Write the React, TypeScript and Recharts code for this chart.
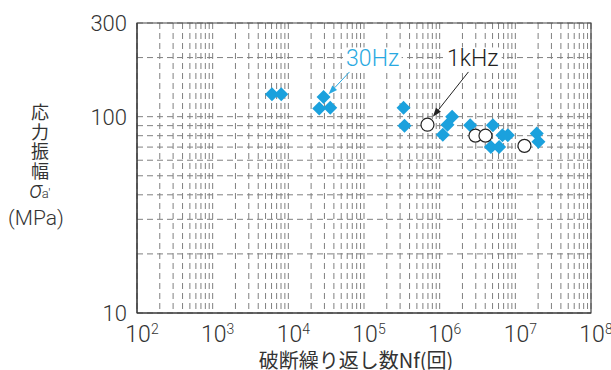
import React from "react";
import {
  ScatterChart,
  Scatter,
  XAxis,
  YAxis,
  CartesianGrid,
  ReferenceLine,
  ReferenceDot,
  ReferenceArea,
} from "recharts";

// decade labels on the x axis, minor grid at 2..9 x 10^n
const xDecades = [1e2, 1e3, 1e4, 1e5, 1e6, 1e7, 1e8];
const xGridTicks = xDecades
  .flatMap((d) => [1, 2, 3, 4, 5, 6, 7, 8, 9].map((m) => m * d))
  .filter((v) => v <= 1e8);

const yLabelTicks = [10, 100, 300];
const yGridTicks = [10, 20, 30, 40, 50, 60, 70, 80, 90, 100, 200, 300];

// 30Hz tests (blue diamonds)
const hz30Cycles = [
  6070, 8060, 29200, 25600, 35800, 333000, 343000, 1.46e6, 1.27e6, 1.1e6,
  2.53e6, 5.05e6, 4.75e6, 6.11e6, 6.76e6, 7.96e6, 1.92e7, 2.02e7,
];
const hz30Stress = [
  130, 130, 126, 110, 111, 111, 90, 100, 91, 81, 90.5, 90.5, 70, 70, 80.5,
  80.5, 82, 74.5,
];

// 1kHz tests (open circles)
const khz1Cycles = [6.9e5, 2.97e6, 4.03e6, 1.32e7];
const khz1Stress = [91, 80, 80, 71];

const BLUE = "#1ba1dd";
const NUM_FONT = "Roboto, 'Liberation Sans', sans-serif";
const JP_FONT = "'Noto Sans CJK JP', 'Noto Sans', sans-serif";

const hz30Data = hz30Cycles.map((n, i) => ({ n, s: hz30Stress[i] }));
const khz1Data = khz1Cycles.map((n, i) => ({ n, s: khz1Stress[i] }));

// annotation arrows (data coordinates)
const annotations = [
  { text: "30Hz", color: "#29a9e1", from: { n: 64300, s: 169 }, to: { n: 34000, s: 130 }, at: { n: 1.3e5, s: 198 } },
  { text: "1kHz", color: "#222", from: { n: 2.4e6, s: 169 }, to: { n: 8.13e5, s: 99.8 }, at: { n: 2.73e6, s: 198 } },
];

const isDecade = (v: number) => {
  const l = Math.log10(v);
  return Math.abs(l - Math.round(l)) < 1e-9;
};

const XTick = (props: any) => {
  const { x, y, payload } = props;
  const v = payload.value;
  if (!isDecade(v)) return <g />;
  const exp = Math.round(Math.log10(v));
  return (
    <text x={x + 5} y={y + 29} textAnchor="middle" fill="#333" fontFamily={NUM_FONT} fontWeight={300} fontSize={23}>
      10
      <tspan dy={-8} fontSize={14}>{exp}</tspan>
    </text>
  );
};

const YTick = (props: any) => {
  const { x, y, payload } = props;
  if (!yLabelTicks.includes(payload.value)) return <g />;
  return (
    <text x={x - 10} y={y + 8} textAnchor="end" fill="#333" fontFamily={NUM_FONT} fontWeight={300} fontSize={22}>
      {payload.value}
    </text>
  );
};

const Diamond = (props: any) => {
  const { cx, cy } = props;
  const r = 7;
  return (
    <polygon
      points={`${cx},${cy - r} ${cx + r},${cy} ${cx},${cy + r} ${cx - r},${cy}`}
      fill={BLUE}
    />
  );
};

const OpenCircle = (props: any) => {
  const { cx, cy } = props;
  return <circle cx={cx} cy={cy} r={6.5} fill="#fff" stroke="#222" strokeWidth={1.2} />;
};

const arrowShape = (color: string) => (props: any) => {
  const { x1, y1, x2, y2 } = props;
  const dx = x2 - x1;
  const dy = y2 - y1;
  const len = Math.sqrt(dx * dx + dy * dy) || 1;
  const ux = dx / len;
  const uy = dy / len;
  const hl = 9;
  const hw = 3.2;
  const bx = x2 - ux * hl;
  const by = y2 - uy * hl;
  return (
    <g>
      <line x1={x1} y1={y1} x2={bx} y2={by} stroke={color} strokeWidth={1} />
      <polygon
        points={`${x2},${y2} ${bx - uy * hw},${by + ux * hw} ${bx + uy * hw},${by - ux * hw}`}
        fill={color}
      />
    </g>
  );
};

const labelShape = (text: string, color: string) => (props: any) => {
  const { cx, cy } = props;
  const w = text.length * 13 + 6;
  return (
    <g>
      <rect x={cx - w / 2} y={cy - 11} width={w} height={22} fill="#fff" />
      <text x={cx} y={cy + 8} textAnchor="middle" fill={color} fontFamily={NUM_FONT} fontWeight={300} fontSize={23}>
        {text}
      </text>
    </g>
  );
};

export default function App() {
  return (
    <div style={{ position: "absolute", left: 0, top: 0, width: 611, height: 370, background: "#fff" }}>
      <ScatterChart width={611} height={370} margin={{ top: 23, right: 20, left: 0, bottom: 0 }}>
        <CartesianGrid stroke="#808080" strokeDasharray="6 4" />
        <XAxis
          type="number"
          dataKey="n"
          scale="log"
          domain={[100, 1e8]}
          ticks={xGridTicks}
          interval={0}
          allowDataOverflow
          tick={<XTick />}
          tickLine={false}
          tickSize={0}
          tickMargin={0}
          height={57}
          axisLine={{ stroke: "#333" }}
        />
        <YAxis
          type="number"
          dataKey="s"
          scale="log"
          domain={[10, 300]}
          ticks={yGridTicks}
          interval={0}
          allowDataOverflow
          tick={<YTick />}
          tickLine={false}
          tickSize={0}
          tickMargin={0}
          width={137}
          axisLine={{ stroke: "#333" }}
        />
        <ReferenceArea x1={100} x2={1e8} y1={10} y2={300} fill="none" stroke="#444" strokeWidth={1.2} />
        <Scatter data={hz30Data} shape={<Diamond />} isAnimationActive={false} />
        <Scatter data={khz1Data} shape={<OpenCircle />} isAnimationActive={false} />
        {annotations.map((a) => (
          <ReferenceLine
            key={a.text + "-arrow"}
            segment={[
              { x: a.from.n, y: a.from.s },
              { x: a.to.n, y: a.to.s },
            ]}
            shape={arrowShape(a.color)}
          />
        ))}
        {annotations.map((a) => (
          <ReferenceDot key={a.text + "-label"} x={a.at.n} y={a.at.s} r={0} shape={labelShape(a.text, a.color)} />
        ))}
      </ScatterChart>

      {/* y axis title, stacked vertically */}
      <div
        style={{
          position: "absolute",
          left: 0,
          top: 102,
          width: 80,
          color: "#333",
          textAlign: "center",
          fontSize: 18,
          lineHeight: "19.5px",
          fontFamily: JP_FONT,
        }}
      >
        応<br />力<br />振<br />幅
      </div>
      <div
        style={{
          position: "absolute",
          left: 0,
          top: 180,
          width: 80,
          color: "#333",
          textAlign: "center",
          lineHeight: "22px",
          fontFamily: NUM_FONT,
          fontWeight: 300,
        }}
      >
        <span style={{ fontStyle: "italic", fontSize: 23 }}>σ</span>
        <span style={{ fontSize: 13 }}>a′</span>
      </div>
      <div
        style={{
          position: "absolute",
          left: -4,
          top: 206,
          width: 80,
          color: "#333",
          textAlign: "center",
          lineHeight: "24px",
          fontSize: 21,
          fontFamily: NUM_FONT,
          fontWeight: 300,
        }}
      >
        (MPa)
      </div>

      {/* x axis title */}
      <div
        style={{
          position: "absolute",
          left: 256,
          width: 200,
          top: 349,
          lineHeight: "21px",
          textAlign: "center",
          color: "#333",
          fontSize: 20,
          fontFamily: JP_FONT,
          whiteSpace: "nowrap",
        }}
      >
        破断繰り返し数Nf(回)
      </div>
    </div>
  );
}
